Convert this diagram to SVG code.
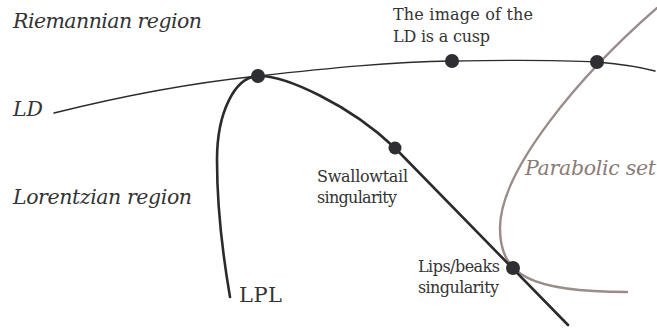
<svg xmlns="http://www.w3.org/2000/svg" width="657" height="329" viewBox="0 0 657 329">
<style>
.t{font-family:'DejaVu Serif','Liberation Serif',serif;fill:#333}
.it{font-style:italic;font-size:20.5px}
.lb{font-size:16px}
.c{fill:none;stroke-linecap:round}
.ld{stroke:#2b2b2b;stroke-width:1.4}
.lpl{stroke:#2b2b2b;stroke-width:2.6}
.par{stroke:#9a8c89;stroke-width:2.4}
.dot{fill:#2e2e33}
</style>
<rect width="657" height="329" fill="#fff"/>
<g id="connectors">
<path id="parabolic" class="c par" d="M657,8 C580,75 500,170 500,228 C500,275 530,292 627,292"/>
<path id="ld-curve" class="c ld" d="M54,113 C130,94 200,82 258,76 C330,68 390,62 452,61 C510,60 560,60 597,62 C620,64 640,67 655,71"/>
<path id="lpl-curve" class="c lpl" d="M230,297 C224,262 217,210 217,160 C217,112 235,77 258,76 C285,75 350,105 395,148 L568,325"/>
</g>
<g id="cusp-point"><circle class="dot" cx="258" cy="76" r="7"/></g>
<g id="ld-cusp-image"><circle class="dot" cx="452" cy="61" r="7"/></g>
<g id="ld-parabolic-point"><circle class="dot" cx="597" cy="62" r="7"/></g>
<g id="swallowtail"><circle class="dot" cx="395" cy="148" r="6.5"/></g>
<g id="lips-beaks"><circle class="dot" cx="513" cy="268" r="7"/></g>
<g id="labels">
<text class="t it" x="13" y="28" textLength="189">Riemannian region</text>
<text class="t it" x="13" y="116" textLength="30">LD</text>
<text class="t it" x="13" y="204" textLength="179">Lorentzian region</text>
<text class="t it" x="525" y="175" textLength="131" style="fill:#8a7b78">Parabolic set</text>
<text class="t" x="239" y="302" font-size="21" textLength="43">LPL</text>
<text class="t lb" x="393" y="20" textLength="140">The image of the</text>
<text class="t lb" x="393" y="42" textLength="97">LD is a cusp</text>
<text class="t lb" x="317" y="182" textLength="91">Swallowtail</text>
<text class="t lb" x="317" y="203" textLength="80">singularity</text>
<text class="t lb" x="418" y="272" textLength="82">Lips/beaks</text>
<text class="t lb" x="418" y="293" textLength="81">singularity</text>
</g>
</svg>
